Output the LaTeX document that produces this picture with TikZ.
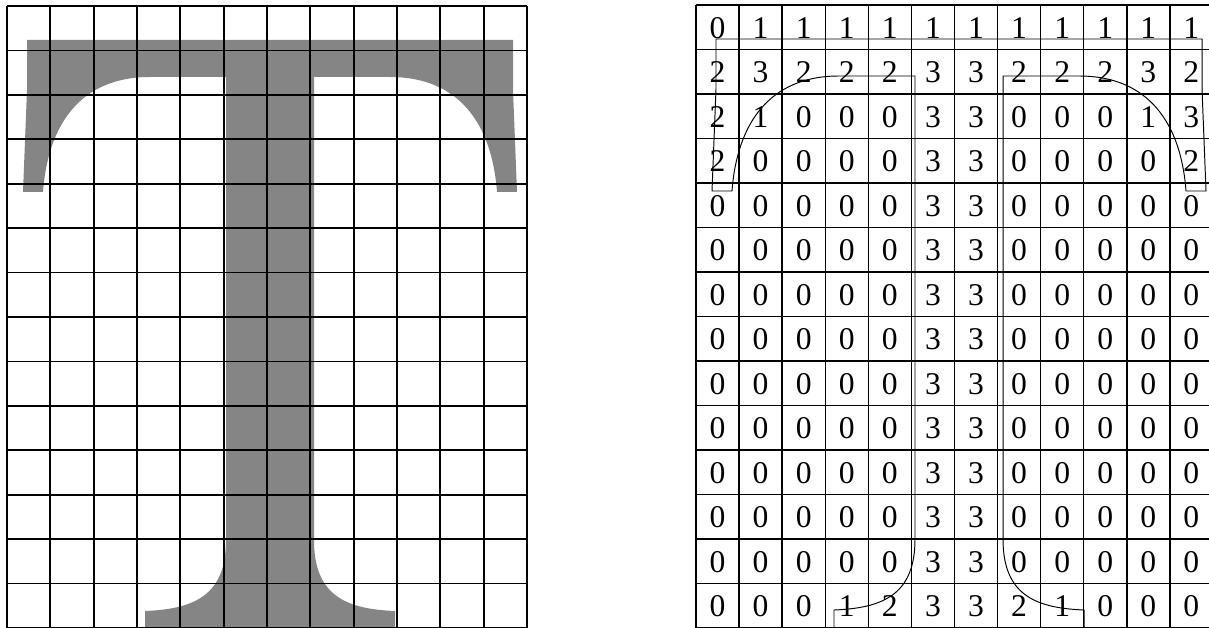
\documentclass[tikz,border=0pt]{standalone}
\usepackage{fontspec}
\setmainfont{Liberation Serif}
\usepackage{tikz}

% outline of the letter T (pixel units, open at the bottom edge)
\newcommand{\Toutline}{(395,628) -- (395,611)
    .. controls (345,609) and (314,595) .. (314,540)
    -- (314,77) -- (390,77)
    .. controls (460,77) and (492,125) .. (497,192)
    -- (517,192) -- (513,90) -- (513,40) -- (27,40) -- (27,90) -- (23,192) -- (43,192)
    .. controls (48,125) and (80,77) .. (150,77)
    -- (226,77) -- (226,540)
    .. controls (226,595) and (195,609) .. (145,611)
    -- (145,628)}

\begin{document}
\begin{tikzpicture}[
    x=0.02cm, y=-0.02cm,
    gridL/.style={line width=1pt},
    gridR/.style={line width=0.8pt},
    glyph/.style={fill=black!48},
    contour/.style={line width=0.55pt},
    digit/.style={font=\fontsize{18}{20}\selectfont, inner sep=0pt},
]
\useasboundingbox (0,0) rectangle (1209,628);

% ---- Lettre T pleine ----
\fill[glyph] \Toutline -- cycle;

% ---- Grille gauche (12 x 14) ----
\foreach \i in {0,...,12} {
    \draw[gridL] (7+\i*43.33,6) -- (7+\i*43.33,628);
}
\foreach \j in {0,...,14} {
    \draw[gridL] (7,6+\j*44.43) -- (527,6+\j*44.43);
}

% ---- Grille droite ----
\foreach \i in {0,...,11} {
    \draw[gridR] (696+\i*43.08,5) -- (696+\i*43.08,628);
}
\foreach \j in {0,...,14} {
    \draw[gridR] (696,5+\j*44.5) -- (1209,5+\j*44.5);
}

% ---- Valeurs des cellules ----
\foreach \r/\vals in {
    0/{0,1,1,1,1,1,1,1,1,1,1,1},
    1/{2,3,2,2,2,3,3,2,2,2,3,2},
    2/{2,1,0,0,0,3,3,0,0,0,1,3},
    3/{2,0,0,0,0,3,3,0,0,0,0,2},
    4/{0,0,0,0,0,3,3,0,0,0,0,0},
    5/{0,0,0,0,0,3,3,0,0,0,0,0},
    6/{0,0,0,0,0,3,3,0,0,0,0,0},
    7/{0,0,0,0,0,3,3,0,0,0,0,0},
    8/{0,0,0,0,0,3,3,0,0,0,0,0},
    9/{0,0,0,0,0,3,3,0,0,0,0,0},
    10/{0,0,0,0,0,3,3,0,0,0,0,0},
    11/{0,0,0,0,0,3,3,0,0,0,0,0},
    12/{0,0,0,0,0,3,3,0,0,0,0,0},
    13/{0,0,0,1,2,3,3,2,1,0,0,0}} {
    \foreach \v [count=\c from 0] in \vals {
        \node[digit] (d\r-\c) at (696+\c*43.08+21.5, 5+\r*44.5+23) {\v};
    }
}

% ---- Contour du T sur la grille droite ----
\draw[contour, shift={(689,-1)}] \Toutline;

\end{tikzpicture}
\end{document}
